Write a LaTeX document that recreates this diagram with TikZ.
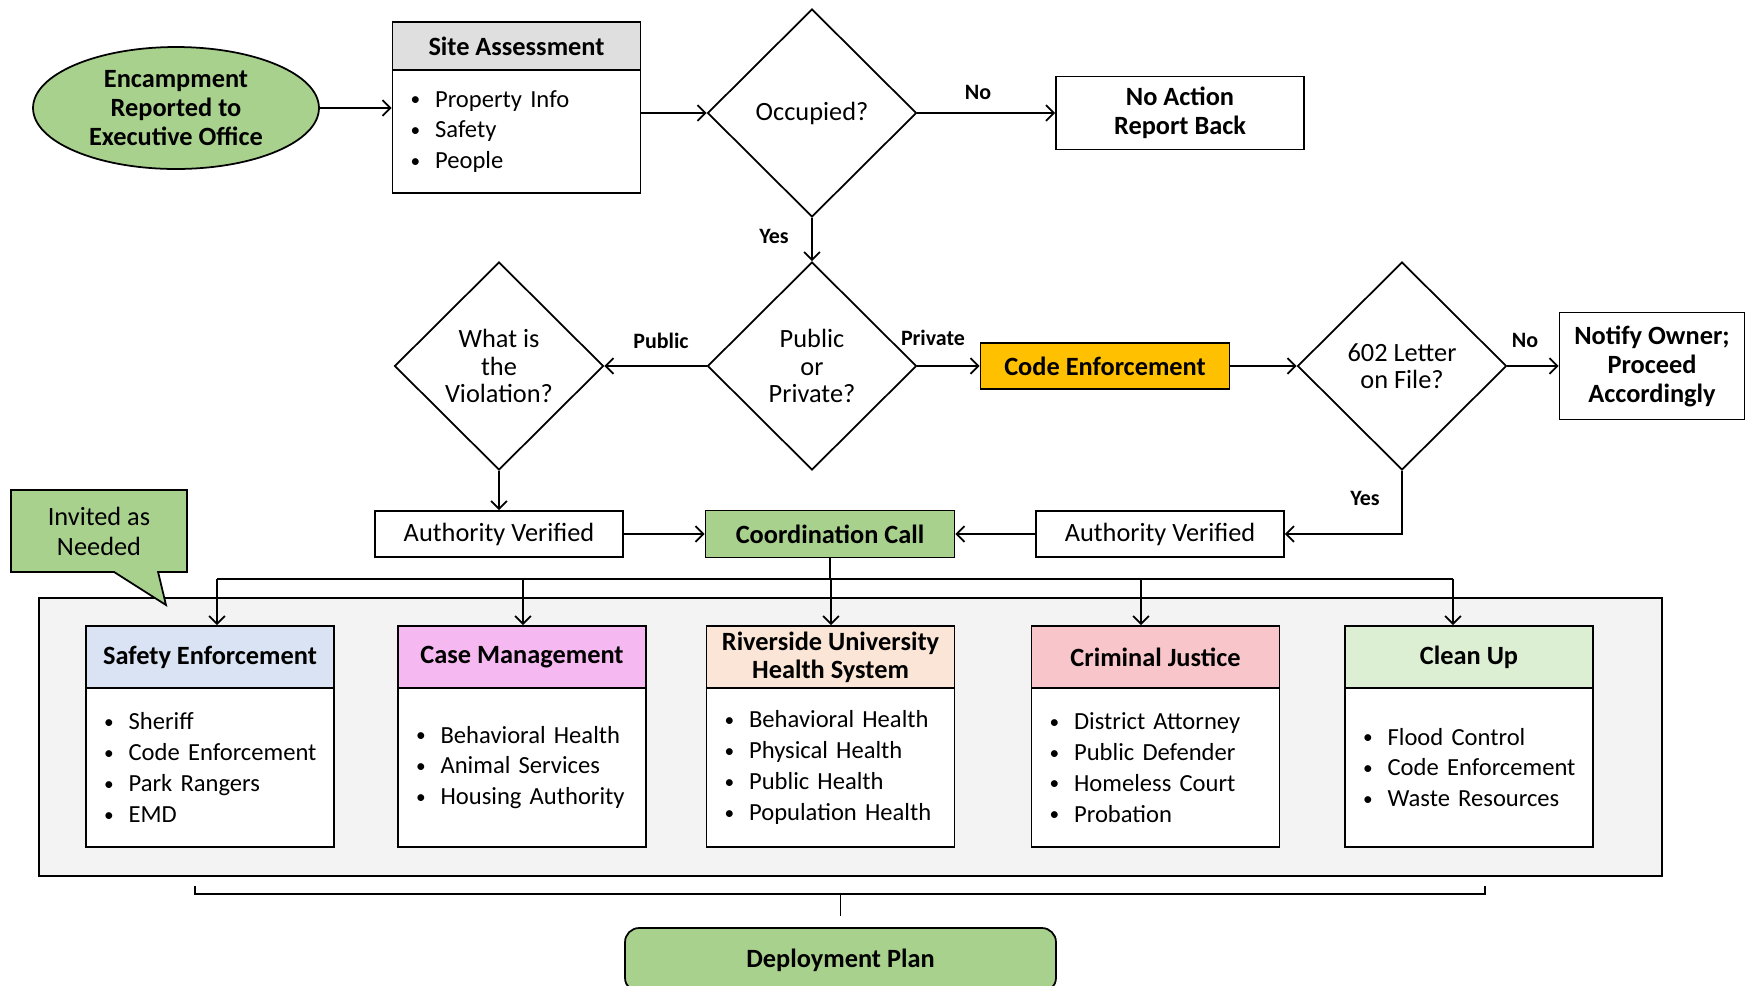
\documentclass[tikz,border=0pt]{standalone}
\usepackage{fontspec}
\setmainfont{Carlito}
\usetikzlibrary{shapes.geometric,shapes.callouts,arrows.meta,positioning}

\definecolor{leaf}{HTML}{A9D18E}
\definecolor{amber}{HTML}{FFC000}
\definecolor{skyhead}{HTML}{DAE3F3}
\definecolor{orchidhead}{HTML}{F5B8F0}
\definecolor{peachhead}{HTML}{FBE5D6}
\definecolor{rosehead}{HTML}{F8C6CA}
\definecolor{minthead}{HTML}{DCEFD2}
\definecolor{panelgray}{HTML}{F3F3F3}

\newcommand{\bul}{\hspace*{0.21cm}\raisebox{0.8pt}{\fontsize{11}{11}\selectfont\textbullet}\hspace{8.5pt}}

\tikzset{
  base/.style={draw, font=\fontsize{15}{17}\selectfont, inner sep=2pt, align=center},
  box/.style={base, rectangle, minimum width=4.96cm, minimum height=0.92cm},
  boldbox/.style={box, font=\fontsize{15}{16.5}\selectfont\bfseries},
  hdr/.style={boldbox, minimum height=1.24cm},
  body/.style={base, rectangle, text width=4.66cm, inner xsep=0.15cm, minimum height=3.18cm, align=left, fill=white, font=\fontsize{14}{17.6}\selectfont, execute at begin node={\hyphenpenalty=10000}},
  decision/.style={base, diamond, minimum width=4.18cm, minimum height=4.16cm, inner sep=0pt, font=\fontsize{15}{15.5}\selectfont},
  lbl/.style={font=\fontsize{12.5}{14}\selectfont\bfseries},
}

\begin{document}
\begin{tikzpicture}[x=0.02cm, y=-0.02cm, line width=1pt, >={Straight Barb[length=4.5pt,width=9pt]}]
    \useasboundingbox (0,0) rectangle (1747,985);

    % top row
    \node [ellipse, draw, fill=leaf, font=\fontsize{15}{16.5}\selectfont\bfseries, minimum width=5.72cm, minimum height=2.44cm, inner sep=0pt, align=center] (start) at (176,108) {Encampment\\Reported to\\Executive Office};
    \node [hdr, minimum height=0.96cm, fill=gray!25] (sitehd) at (516.5,46) {Site Assessment};
    \node [body, minimum height=2.46cm] (sitebody) at (516.5,131.5) {\bul Property Info\\\bul Safety\\\bul People};
    \node [decision] (occ) at (812,113) {Occupied?};
    \node [boldbox, minimum height=1.46cm] (noact) at (1180,113) {No Action\\Report Back};

    \draw [->] (start.east) -- (start.east -| sitebody.west);
    \draw [->] (occ.west -| sitebody.east) -- (occ.west);
    \draw [->] (occ.east) -- (noact.west);
    \node [lbl] (lno) at (978,92) {No};

    % second row
    \node [decision] (pubpriv) at (812,366) {Public\\or\\Private?};
    \node [decision] (viol) at (499,366) {What is\\the\\Violation?};
    \node [boldbox, fill=amber, minimum width=4.98cm] (code) at (1105,366) {Code Enforcement};
    \node [decision] (letter) at (1402,366) {602 Letter\\on File?};
    \node [boldbox, minimum width=3.7cm, minimum height=2.14cm] (notify) at (1652,366) {Notify Owner;\\Proceed\\Accordingly};

    \draw [->] (occ.south) -- (pubpriv.north);
    \node [lbl] (lyes) at (774,236) {Yes};
    \draw [->] (pubpriv.west) -- (viol.east);
    \node [lbl] (lpub) at (661,341) {Public};
    \draw [->] (pubpriv.east) -- (code.west);
    \node [lbl] (lpriv) at (933,338) {Private};
    \draw [->] (code.east) -- (letter.west);
    \draw [->] (letter.east) -- (notify.west);
    \node [lbl] (lno2) at (1525,340) {No};

    % third row
    \node [box] (authl) at (499,534) {Authority Verified};
    \node [boldbox, fill=leaf, minimum width=4.98cm, minimum height=0.94cm] (coord) at (830,534) {Coordination Call};
    \node [box] (authr) at (1160,534) {Authority Verified};

    \draw [->] (viol.south) -- (authl.north);
    \draw [->] (authl.east) -- (coord.west);
    \draw [->] (authr.west) -- (coord.east);
    \draw [->] (letter.south) -- (letter.south |- authr.east) -- (authr.east);
    \node [lbl] (lyes2) at (1365,498) {Yes};

    % agencies
    \draw [fill=panelgray] (39,598) rectangle (1662,876);
    \node [rectangle callout, draw, fill=leaf, font=\fontsize{15}{17}\selectfont, align=center, minimum width=3.52cm, minimum height=1.64cm, callout absolute pointer={(166,605)}, callout pointer width=0.88cm] (invite) at (99,531) {Invited as\\Needed};

    \node [hdr, fill=skyhead] (hd1) at (210,657) {Safety Enforcement};
    \node [body] (bd1) at (210,767.5) {\bul Sheriff\\\bul Code Enforcement\\\bul Park Rangers\\\bul EMD};
    \node [hdr, fill=orchidhead] (hd2) at (522,657) {Case Management};
    \node [body] (bd2) at (522,767.5) {\bul Behavioral Health\\\bul Animal Services\\\bul Housing Authority};
    \node [hdr, fill=peachhead, inner ysep=0pt, font=\fontsize{15}{15.8}\selectfont\bfseries] (hd3) at (830.5,657) {Riverside University\\Health System};
    \node [body] (bd3) at (830.5,767.5) {\bul Behavioral Health\\\bul Physical Health\\\bul Public Health\\\bul Population Health};
    \node [hdr, fill=rosehead] (hd4) at (1155.5,657) {Criminal Justice};
    \node [body] (bd4) at (1155.5,767.5) {\bul District Attorney\\\bul Public Defender\\\bul Homeless Court\\\bul Probation};
    \node [hdr, fill=minthead] (hd5) at (1469,657) {Clean Up};
    \node [body] (bd5) at (1469,767.5) {\bul Flood Control\\\bul Code Enforcement\\\bul Waste Resources};

    \coordinate (busl) at (217,579);
    \coordinate (busr) at (1453,579);
    \draw (coord.south) -- (coord.south |- busl);
    \draw (busl) -- (busr);
    \foreach \x/\i in {217/1,523/2,831/3,1141/4,1453/5}
        \draw [->] (\x,579) -- (hd\i.north -| \x,0);

    % bracket and plan
    \node [base, rounded corners=8pt, fill=leaf, font=\fontsize{15}{17}\selectfont\bfseries, minimum width=8.62cm, minimum height=1.28cm] (plan) at (840.5,960) {Deployment Plan};
    \coordinate (brace) at (plan.north |- 0,894);
    \draw (195,886) -- (195,894) -- (1485,894) -- (1485,886);
    \draw (brace) -- ++(0,22);
\end{tikzpicture}
\end{document}
